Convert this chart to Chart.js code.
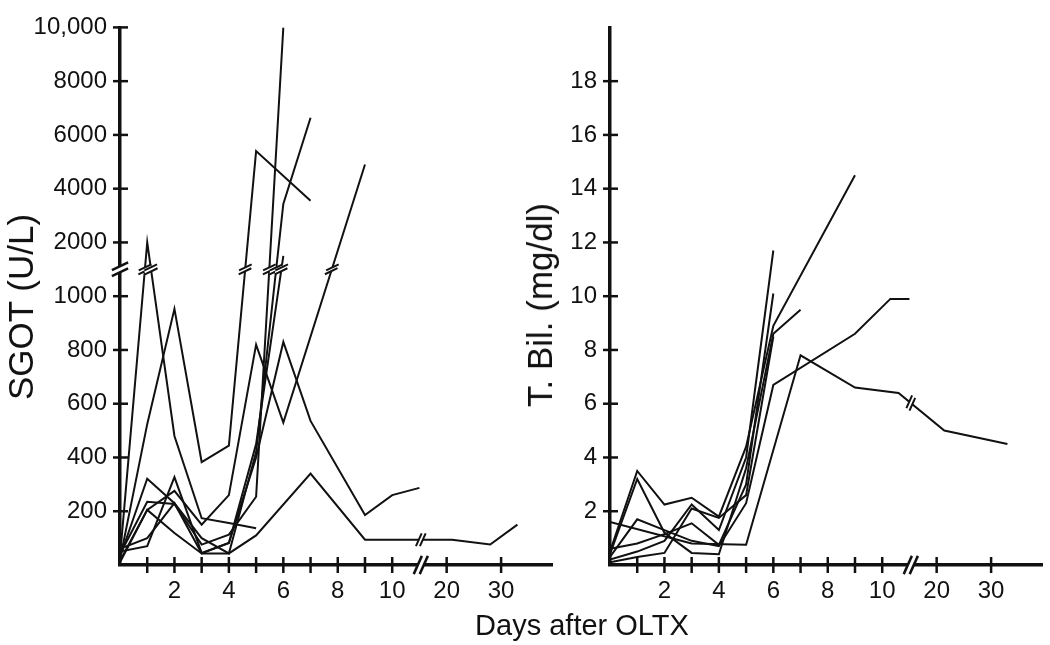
<!DOCTYPE html>
<html>
<head>
    <meta charset="utf-8">
    <title>SGOT and T. Bil. after OLTX</title>
    <script src="https://cdn.jsdelivr.net/npm/chart.js"></script>
    <style>
        body { margin: 0; background: #fff; }
        #wrap { position: relative; width: 1050px; height: 645px; font-family: "Liberation Sans", Arial, sans-serif; color: #111; }
        canvas { position: absolute; top: 0; }
        .title { position: absolute; white-space: nowrap; }
        .ytitle { transform: translate(-50%, -50%) rotate(-90deg); font-size: 35px; }
    </style>
</head>
<body>
    <div id="wrap">
        <canvas id="sgotChart" width="560" height="645" style="left:0"></canvas>
        <canvas id="bilChart" width="560" height="645" style="left:490px"></canvas>
        <div class="title ytitle" style="left:21px; top:307px">SGOT (U/L)</div>
        <div class="title ytitle" style="left:540px; top:305px">T. Bil. (mg/dl)</div>
        <div class="title" style="left:582px; top:625px; transform:translate(-50%, -50%); font-size:29px">Days after OLTX</div>
    </div>

    <script>
        // x axis: days, broken between 10 and 20
        const dayTicks = [1, 2, 3, 4, 5, 6, 7, 8, 9, 10, 20, 30];
        const dayLabels = ['', '2', '', '4', '', '6', '', '8', '', '10', '20', '30'];

        // left panel: SGOT (U/L), broken between 1000 and 2000
        const sgotTicks = [200, 400, 600, 800, 1000, 2000, 4000, 6000, 8000, 10000];
        // one patient per array: [day, SGOT]
        const sgot1 = [[0, 30], [1, 2000], [2, 480], [3, 174], [4, 156], [5, 137]];
        const sgot2 = [[0, 20], [1, 524], [2, 953], [3, 383], [4, 444], [5, 5400], [7, 3550]];
        const sgot3 = [[0, 40], [1, 235], [2, 227], [3, 76], [4, 113], [5, 254], [6, 10000]];
        const sgot4 = [[0, 10], [1, 205], [2, 276], [3, 150], [4, 260], [5, 820], [6, 530], [9, 4900]];
        const sgot5 = [[0, 30], [1, 321], [2, 230], [3, 100], [4, 43], [5, 420], [6, 3430], [7, 6640]];
        const sgot6 = [[0, 50], [1, 70], [2, 327], [3, 45], [4, 82], [5, 450], [6, 1500]];
        const sgot7 = [[0, 15], [1, 205], [2, 119], [3, 43], [4, 82], [5, 400], [6, 830], [7, 536], [9, 186], [10, 260], [11, 287]];
        const sgot8 = [[0, 60], [1, 100], [2, 230], [3, 43], [4, 43], [5, 110], [7, 340], [9, 94], [10, 94], [21, 94], [28, 76], [33, 150]];

        // right panel: T. Bil. (mg/dl)
        const bilTicks = [2, 4, 6, 8, 10, 12, 14, 16, 18];
        const bil1 = [[0, 1.6], [3, 0.8], [5, 0.75], [7, 7.8], [9, 6.6], [10.6, 6.4], [21.4, 5.0], [33, 4.5]];
        const bil2 = [[0, 0.3], [1, 1.7], [2, 1.3], [3, 0.9], [4, 0.7], [5, 2.3], [6, 6.7], [9, 8.6], [10.3, 9.9], [11, 9.9]];
        const bil3 = [[0, 0.5], [1, 3.5], [2, 2.25], [3, 2.5], [4, 1.8], [5, 4.4], [6, 8.9], [9, 14.5]];
        const bil4 = [[0, 0.4], [1, 3.2], [2, 1.2], [3, 0.45], [4, 0.4], [5, 3.6], [6, 8.6], [7, 9.5]];
        const bil5 = [[0, 0.2], [1, 0.5], [2, 0.9], [3, 2.25], [4, 1.3], [5, 4.0], [6, 11.7]];
        const bil6 = [[0, 0.6], [1, 0.8], [2, 1.15], [3, 1.55], [4, 0.75], [5, 3.0], [6, 10.1]];
        const bil7 = [[0, 0.1], [1, 0.3], [2, 0.45], [3, 2.1], [4, 1.75], [5, 2.6], [6, 8.5]];

        const X_BREAK = 11.05;   // where the day axis is cut
        const SGOT_BREAK = 1100; // where the SGOT axis is cut

        // broken axes -> linear positions
        function dayPos(d) { return d <= 11 ? d : 12 + (d - 20) * 0.2; }
        function sgotPos(v) { return v <= 1100 ? v : 1000 + v / 10; }
        function samePos(v) { return v; }

        Chart.defaults.font.family = '"Liberation Sans", Arial, sans-serif';
        Chart.defaults.color = '#111';

        function drawBreak(ctx, x, y, dir, angle, len, gap, width) {
            const ux = Math.cos(angle), uy = Math.sin(angle);
            const dx = Math.cos(dir) * gap / 2, dy = Math.sin(dir) * gap / 2;
            const h = len / 2;
            ctx.save();
            ctx.fillStyle = '#fff';
            ctx.beginPath();
            ctx.moveTo(x - dx - ux * h, y - dy - uy * h);
            ctx.lineTo(x - dx + ux * h, y - dy + uy * h);
            ctx.lineTo(x + dx + ux * h, y + dy + uy * h);
            ctx.lineTo(x + dx - ux * h, y + dy - uy * h);
            ctx.closePath();
            ctx.fill();
            ctx.strokeStyle = '#111';
            ctx.lineWidth = width;
            [-1, 1].forEach(s => {
                ctx.beginPath();
                ctx.moveTo(x + s * dx - ux * h, y + s * dy - uy * h);
                ctx.lineTo(x + s * dx + ux * h, y + s * dy + uy * h);
                ctx.stroke();
            });
            ctx.restore();
        }

        // tick marks crossing the axes, and the // marks on axes and lines
        const breakPlugin = {
            id: 'breaks',
            afterDraw(chart, args, opts) {
                const ctx = chart.ctx;
                const xs = chart.scales.x, ys = chart.scales.y;
                const area = chart.chartArea;

                ctx.save();
                ctx.strokeStyle = '#111';
                ctx.lineWidth = 2.5;
                ys.ticks.forEach(t => {
                    const py = ys.getPixelForValue(t.value);
                    ctx.beginPath();
                    ctx.moveTo(area.left - 7, py);
                    ctx.lineTo(area.left + 8, py);
                    ctx.stroke();
                });
                xs.ticks.forEach(t => {
                    const px = xs.getPixelForValue(t.value);
                    ctx.beginPath();
                    ctx.moveTo(px, area.bottom - 8);
                    ctx.lineTo(px, area.bottom + 8);
                    ctx.stroke();
                });
                ctx.restore();

                chart.data.datasets.forEach(ds => {
                    const pts = ds.data;
                    for (let k = 1; k < pts.length; k++) {
                        const a = pts[k - 1], b = pts[k];
                        const ax = xs.getPixelForValue(a.x), ay = ys.getPixelForValue(a.y);
                        const bx = xs.getPixelForValue(b.x), by = ys.getPixelForValue(b.y);
                        const dir = Math.atan2(by - ay, bx - ax);
                        if (opts.yBreak && (a.y - opts.yBreak) * (b.y - opts.yBreak) < 0) {
                            const t = (opts.yBreak - a.y) / (b.y - a.y);
                            drawBreak(ctx, ax + t * (bx - ax), ay + t * (by - ay), dir, -0.45, 14, 4, 2);
                        }
                        if ((a.x - X_BREAK) * (b.x - X_BREAK) < 0) {
                            const t = (X_BREAK - a.x) / (b.x - a.x);
                            drawBreak(ctx, ax + t * (bx - ax), ay + t * (by - ay), dir, -1.15, 14, 4, 2);
                        }
                    }
                });

                if (opts.yBreak) {
                    drawBreak(ctx, area.left, ys.getPixelForValue(opts.yBreak), Math.PI / 2, -0.45, 18, 6, 2.5);
                }
                drawBreak(ctx, xs.getPixelForValue(X_BREAK), area.bottom, 0, -1.15, 20, 6, 2.5);
            }
        };

        function makeChart(id, series, yPos, yMax, yTicks, yBreak) {
            const datasets = series.map(s => ({
                data: s.map(p => ({ x: dayPos(p[0]), y: yPos(p[1]) })),
                borderColor: '#111',
                borderWidth: 2,
                pointRadius: 0,
                tension: 0,
                fill: false
            }));
            return new Chart(document.getElementById(id), {
                type: 'line',
                data: { datasets: datasets },
                plugins: [breakPlugin],
                options: {
                    responsive: false,
                    animation: false,
                    events: [],
                    layout: { padding: { top: 20, right: 8, left: 0, bottom: 0 } },
                    plugins: {
                        legend: { display: false },
                        tooltip: { enabled: false },
                        breaks: { yBreak: yBreak }
                    },
                    scales: {
                        x: {
                            type: 'linear',
                            min: 0,
                            max: 15.87,
                            grid: { display: false, drawTicks: false },
                            border: { display: true, width: 3.5, color: '#111' },
                            afterFit: s => { s.height = 80; },
                            afterBuildTicks: s => { s.ticks = dayTicks.map(d => ({ value: dayPos(d) })); },
                            ticks: {
                                autoSkip: false,
                                maxRotation: 0,
                                padding: 12,
                                font: { size: 24 },
                                callback: (v, i) => dayLabels[i]
                            }
                        },
                        y: {
                            type: 'linear',
                            min: 0,
                            max: yMax,
                            grid: { display: false, drawTicks: false },
                            border: { display: true, width: 3.5, color: '#111' },
                            afterFit: s => { s.width = 120; },
                            afterBuildTicks: s => { s.ticks = yTicks.map(t => ({ value: yPos(t) })); },
                            ticks: {
                                autoSkip: false,
                                padding: 13,
                                font: { size: 24 },
                                callback: (v, i) => yTicks[i] >= 10000 ? yTicks[i].toLocaleString('en-US') : String(yTicks[i])
                            }
                        }
                    }
                }
            });
        }

        makeChart('sgotChart', [sgot1, sgot2, sgot3, sgot4, sgot5, sgot6, sgot7, sgot8], sgotPos, 2000, sgotTicks, SGOT_BREAK);
        makeChart('bilChart', [bil1, bil2, bil3, bil4, bil5, bil6, bil7], samePos, 20, bilTicks, null);
    </script>
</body>
</html>
